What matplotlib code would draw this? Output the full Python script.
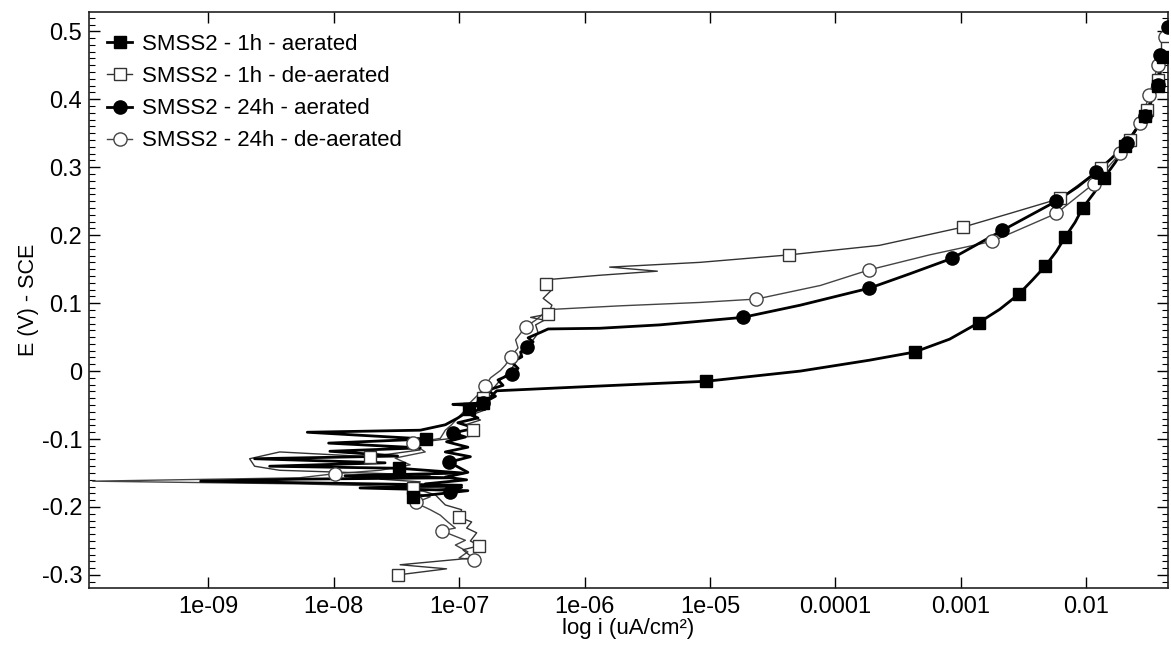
import matplotlib
matplotlib.use("Agg")
import matplotlib.pyplot as plt
import numpy as np
from matplotlib.lines import Line2D
from matplotlib.ticker import FixedLocator, FixedFormatter, MultipleLocator

plt.rcParams['font.family'] = ['Liberation Sans', 'DejaVu Sans']
plt.rcParams['axes.unicode_minus'] = False

# --- data: log10(i) and E (V vs SCE) ---
# SMSS2 - 1h - aerated
a1_logi = [-7.37, -6.93, -7.79, -6.98, -9.06, -8.27, -7.06, -7.91, -6.97, -7.48,
           -8.51, -7.59, -8.63, -7.49, -8.03, -7.31, -8.04, -7.26, -8.21, -7.31,
           -7.11, -7.01, -6.95, -6.92, -6.86, -7.05, -6.81, -6.75, -6.70, -6.35,
           -5.88, -5.40, -5.03, -4.28, -3.73, -3.37, -3.09, -2.86, -2.69, -2.54,
           -2.43, -2.33, -2.24, -2.17, -2.09, -2.03, -1.94, -1.86, -1.77, -1.69,
           -1.61, -1.53, -1.48, -1.43, -1.39, -1.36]
a1_E = [-0.185, -0.176, -0.172, -0.168, -0.162, -0.159, -0.157, -0.154, -0.150, -0.143,
        -0.140, -0.135, -0.129, -0.125, -0.118, -0.113, -0.106, -0.100, -0.090, -0.087,
        -0.079, -0.069, -0.062, -0.056, -0.051, -0.049, -0.047, -0.038, -0.029, -0.026,
        -0.022, -0.018, -0.015, 0.000, 0.016, 0.028, 0.047, 0.071, 0.091, 0.113,
        0.134, 0.154, 0.176, 0.197, 0.219, 0.240, 0.262, 0.284, 0.307, 0.331,
        0.354, 0.376, 0.399, 0.419, 0.462, 0.494]
a1_mk_logi = [-7.37, -7.48, -7.26, -6.92, -6.81, -5.03, -3.37, -2.86, -2.54, -2.33,
              -2.17, -2.03, -1.86, -1.69, -1.53, -1.43, -1.39]
a1_mk_E = [-0.185, -0.143, -0.100, -0.056, -0.047, -0.015, 0.028, 0.071, 0.113, 0.154,
           0.197, 0.240, 0.284, 0.331, 0.376, 0.419, 0.462]

# SMSS2 - 1h - de-aerated
d1_logi = [-7.49, -7.10, -7.47, -6.89, -6.97, -6.84, -6.91, -6.86, -6.94, -6.90,
           -7.00, -6.98, -7.11, -7.19, -7.37, -7.31, -7.63, -7.23, -8.43, -8.63,
           -8.67, -8.43, -7.71, -7.31, -7.37, -7.15, -6.91, -6.89, -6.95, -6.83,
           -6.91, -6.79, -6.81, -6.74, -6.67, -6.59, -6.55, -6.51, -6.47, -6.41,
           -6.37, -6.39, -6.32, -6.43, -6.29, -6.26, -6.33, -6.27, -6.31, -6.27,
           -5.88, -5.42, -5.80, -5.08, -4.37, -3.65, -2.98, -2.61, -2.21, -1.88,
           -1.65, -1.52, -1.43, -1.36, -1.33]
d1_E = [-0.300, -0.291, -0.285, -0.275, -0.263, -0.257, -0.250, -0.238, -0.231, -0.222,
        -0.215, -0.204, -0.197, -0.182, -0.172, -0.163, -0.159, -0.153, -0.146, -0.140,
        -0.129, -0.119, -0.126, -0.116, -0.106, -0.101, -0.096, -0.087, -0.079, -0.072,
        -0.065, -0.057, -0.040, -0.028, -0.013, 0.001, 0.013, 0.024, 0.035, 0.046,
        0.056, 0.068, 0.075, 0.079, 0.084, 0.097, 0.107, 0.118, 0.128, 0.135,
        0.141, 0.147, 0.153, 0.160, 0.171, 0.185, 0.212, 0.232, 0.254, 0.299,
        0.340, 0.384, 0.428, 0.476, 0.501]
d1_mk_logi = [-7.49, -6.84, -7.00, -7.37, -7.71, -6.89, -6.81, -6.29, -6.31, -4.37,
              -2.98, -2.21, -1.88, -1.65, -1.52, -1.43, -1.36]
d1_mk_E = [-0.300, -0.257, -0.215, -0.172, -0.126, -0.087, -0.040, 0.084, 0.128, 0.171,
           0.212, 0.254, 0.299, 0.340, 0.384, 0.428, 0.476]

# SMSS2 - 24h - aerated
a24_logi = [-7.07, -6.98, -7.27, -6.94, -7.11, -6.93, -7.08, -6.91, -7.11, -6.93,
            -7.10, -6.95, -7.05, -6.87, -7.01, -6.85, -6.93, -6.79, -6.81, -6.71,
            -6.77, -6.65, -6.69, -6.58, -6.53, -6.58, -6.50, -6.51, -6.46, -6.41,
            -6.45, -6.35, -6.29, -5.88, -5.40, -4.74, -4.28, -3.73, -3.41, -3.07,
            -2.67, -2.45, -2.24, -2.07, -1.92, -1.80, -1.68, -1.53, -1.43, -1.41,
            -1.35]
a24_E = [-0.178, -0.171, -0.166, -0.160, -0.156, -0.149, -0.134, -0.126, -0.119, -0.112,
         -0.104, -0.097, -0.091, -0.084, -0.076, -0.069, -0.062, -0.054, -0.047, -0.037,
         -0.028, -0.021, -0.013, -0.004, 0.004, 0.013, 0.021, 0.028, 0.035, 0.043,
         0.049, 0.057, 0.062, 0.063, 0.068, 0.079, 0.097, 0.122, 0.143, 0.166,
         0.207, 0.229, 0.250, 0.271, 0.293, 0.313, 0.335, 0.376, 0.421, 0.465,
         0.506]
a24_mk_logi = [-7.07, -7.08, -7.05, -6.81, -6.58, -6.46, -4.74, -3.73, -3.07, -2.67,
               -2.24, -1.92, -1.68, -1.53, -1.43, -1.41, -1.35]
a24_mk_E = [-0.178, -0.134, -0.091, -0.047, -0.004, 0.035, 0.079, 0.122, 0.166, 0.207,
            0.250, 0.293, 0.335, 0.376, 0.421, 0.465, 0.506]

# SMSS2 - 24h - de-aerated
d24_logi = [-6.88, -7.00, -6.93, -7.03, -6.95, -7.14, -7.03, -7.09, -7.15, -7.23,
            -7.31, -7.34, -7.23, -7.39, -7.03, -8.27, -9.92, -8.27, -7.99, -7.63,
            -7.39, -7.51, -7.27, -7.37, -7.15, -7.11, -7.06, -7.01, -6.95, -6.91,
            -6.85, -6.79, -6.75, -6.67, -6.63, -6.59, -6.53, -6.55, -6.47, -6.39,
            -6.31, -6.24, -5.72, -5.08, -4.63, -4.12, -3.73, -3.25, -2.75, -2.24,
            -1.94, -1.73, -1.57, -1.50, -1.43, -1.37]
d24_E = [-0.278, -0.275, -0.266, -0.256, -0.249, -0.235, -0.231, -0.222, -0.212, -0.204,
         -0.197, -0.193, -0.185, -0.178, -0.172, -0.166, -0.162, -0.157, -0.151, -0.146,
         -0.138, -0.128, -0.119, -0.106, -0.099, -0.087, -0.079, -0.069, -0.057, -0.046,
         -0.035, -0.022, -0.010, 0.001, 0.009, 0.021, 0.034, 0.046, 0.065, 0.075,
         0.087, 0.091, 0.096, 0.101, 0.106, 0.126, 0.149, 0.171, 0.191, 0.232,
         0.276, 0.321, 0.365, 0.406, 0.450, 0.491]
d24_mk_logi = [-6.88, -7.14, -7.34, -7.99, -7.37, -6.79, -6.59, -6.47, -4.63, -3.73,
               -2.75, -2.24, -1.94, -1.73, -1.57, -1.50, -1.43, -1.37]
d24_mk_E = [-0.278, -0.235, -0.193, -0.151, -0.106, -0.022, 0.021, 0.065, 0.106, 0.149,
            0.191, 0.232, 0.276, 0.321, 0.365, 0.406, 0.450, 0.491]

labels = ['SMSS2 - 1h - aerated', 'SMSS2 - 1h - de-aerated',
          'SMSS2 - 24h - aerated', 'SMSS2 - 24h - de-aerated']
xtick_vals = [1e-9, 1e-8, 1e-7, 1e-6, 1e-5, 1e-4, 1e-3, 1e-2]
xtick_labels = ['1e-09', '1e-08', '1e-07', '1e-06', '1e-05', '0.0001', '0.001', '0.01']

fig = plt.figure(figsize=(11.71, 6.46), dpi=100)
ax = fig.add_axes([0.076, 0.090, 0.9214, 0.891])

series = [
    (d24_logi, d24_E, d24_mk_logi, d24_mk_E, 'o', 'none', '#444444', 1.0, 9.5),
    (d1_logi, d1_E, d1_mk_logi, d1_mk_E, 's', 'none', '#333333', 1.0, 8),
    (a24_logi, a24_E, a24_mk_logi, a24_mk_E, 'o', 'black', 'black', 2.0, 9.5),
    (a1_logi, a1_E, a1_mk_logi, a1_mk_E, 's', 'black', 'black', 2.0, 8),
]
for lx, ly, mx, my, mk, fc, col, lw, ms in series:
    ax.plot(10.0 ** np.array(lx), ly, color=col, lw=lw, zorder=2)
    ax.plot(10.0 ** np.array(mx), my, ls='none', marker=mk, ms=ms,
            mfc=fc if fc != 'none' else 'white', mec=col, mew=1.0, zorder=3)

handles = [
    Line2D([], [], color='black', lw=2.0, marker='s', ms=8, mfc='black', mec='black'),
    Line2D([], [], color='#333333', lw=1.0, marker='s', ms=8, mfc='white', mec='#333333'),
    Line2D([], [], color='black', lw=2.0, marker='o', ms=9.5, mfc='black', mec='black'),
    Line2D([], [], color='#444444', lw=1.0, marker='o', ms=9.5, mfc='white', mec='#444444'),
]
ax.legend(handles, labels, loc='upper left', frameon=False, fontsize=16,
          handlelength=1.15, handletextpad=0.42, labelspacing=0.5,
          borderaxespad=0.4, bbox_to_anchor=(0.0, 0.993))

ax.set_xscale('log')
ax.set_xlim(10 ** -9.95, 10 ** -1.35)
ax.set_ylim(-0.319, 0.528)
ax.xaxis.set_major_locator(FixedLocator(xtick_vals))
ax.xaxis.set_major_formatter(FixedFormatter(xtick_labels))
ax.xaxis.set_minor_locator(FixedLocator([]))
ax.yaxis.set_major_locator(MultipleLocator(0.1))
ax.yaxis.set_minor_locator(MultipleLocator(0.01))
ax.yaxis.set_major_formatter(plt.FuncFormatter(lambda v, p: '0' if abs(v) < 1e-9 else '%g' % round(v, 1)))
ax.tick_params(which='both', direction='in', top=True, right=True, labelsize=17, colors='black')
ax.tick_params(which='major', length=8, width=1, pad=5)
ax.tick_params(axis='x', which='major', pad=6)
ax.tick_params(which='minor', length=4, width=0.8)
for s in ax.spines.values():
    s.set_linewidth(1.2)
    s.set_color('#222222')

ax.set_xlabel('log i (uA/cm²)', fontsize=16, labelpad=0)
ax.set_ylabel('E (V) - SCE', fontsize=15.5, labelpad=2)

fig.savefig('out.png', dpi=100)
